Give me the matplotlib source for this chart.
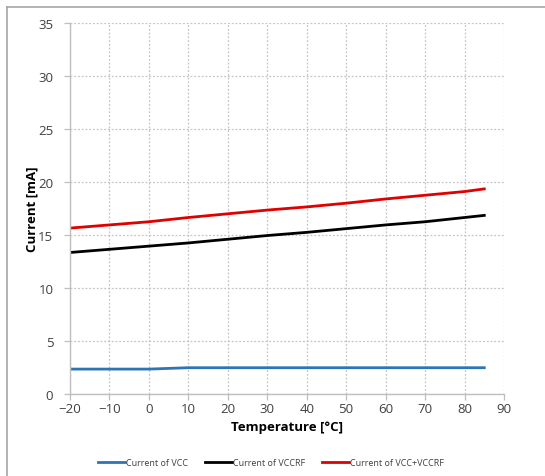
import matplotlib
matplotlib.use("Agg")
import matplotlib.pyplot as plt
from matplotlib.lines import Line2D

plt.rcParams['font.family'] = ['Open Sans', 'DejaVu Sans']

temperature = [-20, -10, 0, 10, 20, 30, 40, 50, 60, 70, 80, 85]
i_vcc = [2.35, 2.35, 2.35, 2.48, 2.48, 2.48, 2.48, 2.48, 2.48, 2.48, 2.48, 2.48]
i_vccrf = [13.35, 13.65, 13.95, 14.25, 14.6, 14.95, 15.25, 15.6, 15.95, 16.25, 16.65, 16.85]
i_total = [15.65, 15.95, 16.25, 16.65, 17.0, 17.35, 17.65, 18.0, 18.4, 18.75, 19.1, 19.35]

x_ticks = list(range(-20, 91, 10))
y_ticks = list(range(0, 36, 5))

fig = plt.figure(figsize=(5.45, 4.77), dpi=100)
ax = fig.add_axes([0.1284, 0.1719, 0.7964, 0.7778])

ax.plot(temperature, i_vcc, color='#2e75b6', lw=2.0, label='Current of VCC')
ax.plot(temperature, i_vccrf, color='#000000', lw=2.0, label='Current of VCCRF')
ax.plot(temperature, i_total, color='#e00000', lw=2.0, label='Current of VCC+VCCRF')

ax.set_xlim(-20, 90)
ax.set_ylim(0, 35)
ax.set_xticks(x_ticks)
ax.set_yticks(y_ticks)
ax.set_xticklabels([str(v).replace('-', '\u2212') for v in x_ticks])

ax.grid(True, color='#c4c4c4', linestyle=(0, (1.5, 1.5)), linewidth=0.9)
ax.set_axisbelow(True)
for side in ('top', 'right'):
    ax.spines[side].set_visible(False)
for side in ('left', 'bottom'):
    ax.spines[side].set_color('#bfbfbf')
    ax.spines[side].set_linewidth(1.0)
ax.tick_params(axis='both', colors='#bfbfbf', length=4, width=0.9,
               labelcolor='#404040', labelsize=9.5)
ax.tick_params(axis='x', pad=2)
ax.tick_params(axis='y', pad=8)

ax.set_xlabel('Temperature [°C]', fontsize=9.5, fontweight='bold', color='#000000', labelpad=3)
ax.set_ylabel('Current [mA]', fontsize=9.5, fontweight='bold', color='#000000', labelpad=0)

handles, labels = ax.get_legend_handles_labels()
fig.legend(handles, labels, loc='center', bbox_to_anchor=(0.497, 0.029),
           ncol=3, frameon=False, fontsize=6.5, handlelength=3.0,
           handletextpad=0.1, columnspacing=1.9, labelcolor='#404040')

# outer frame (top and left edges)
fig.add_artist(Line2D([0.013, 1.0], [0.983, 0.983], transform=fig.transFigure,
                      color='#a6a6a6', lw=1.2))
fig.add_artist(Line2D([0.013, 0.013], [0.0, 0.983], transform=fig.transFigure,
                      color='#a6a6a6', lw=1.2))

fig.savefig('out.png', dpi=100)
